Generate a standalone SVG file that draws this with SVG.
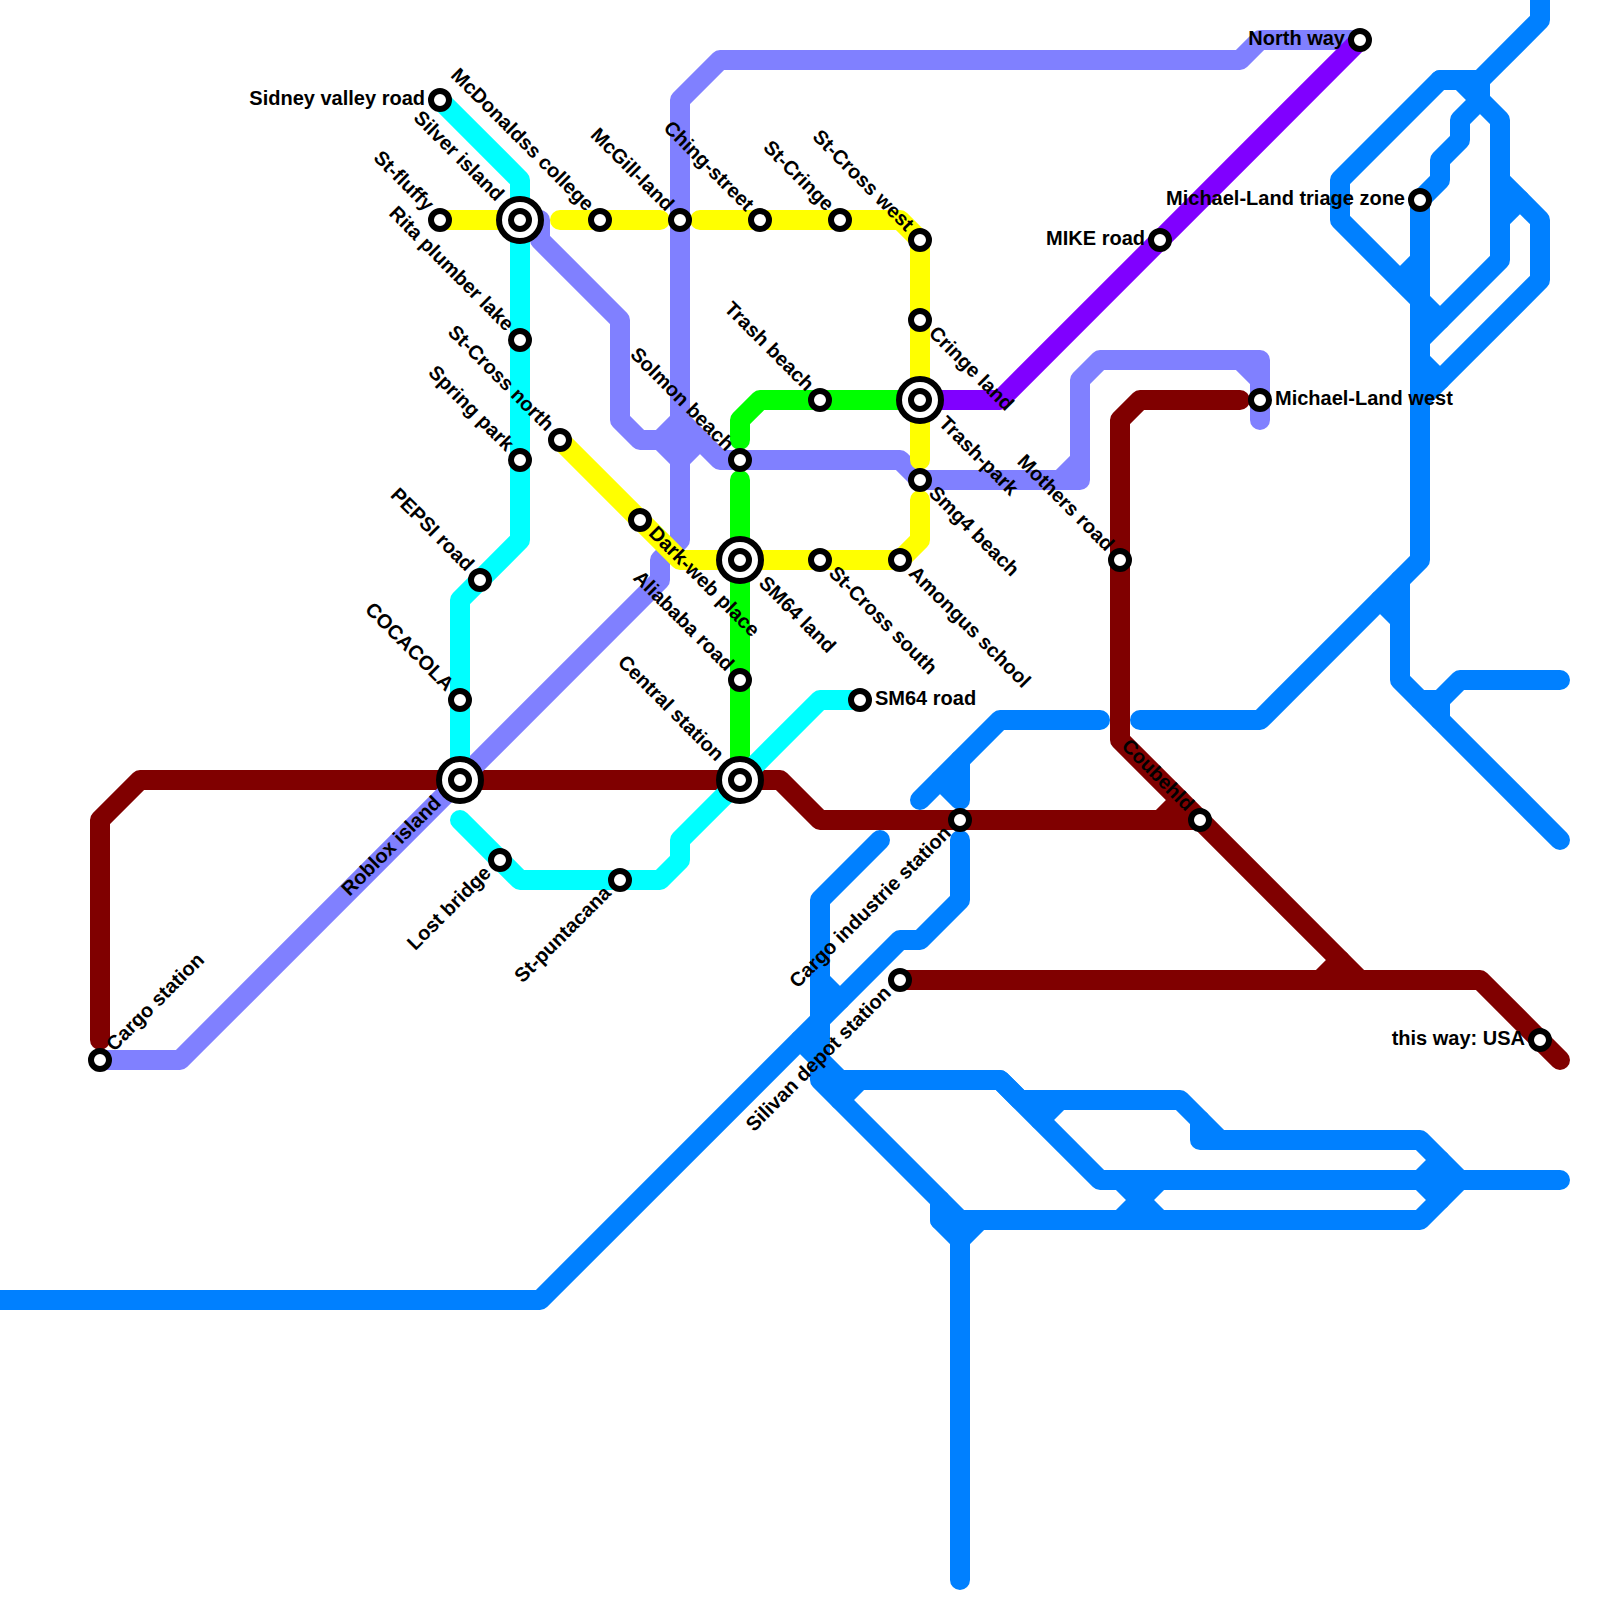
<svg xmlns="http://www.w3.org/2000/svg" width="1600" height="1600" viewBox="0 0 1600 1600">
<style>
.l{fill:none;stroke-width:20;stroke-linecap:round;stroke-linejoin:round}
.blue{stroke:#0080ff}.maroon{stroke:#800000}.peri{stroke:#8080ff}.violet{stroke:#8000ff}.green{stroke:#00ff00}.cyan{stroke:#00ffff}.yellow{stroke:#ffff00}
.st{fill:#fff;stroke:#000;stroke-width:6}
.ic{fill:#fff;stroke:#000;stroke-width:6}
text{font-family:"Liberation Sans",Arial,sans-serif;font-size:20px;font-weight:700;fill:#000;dominant-baseline:central}
.e{text-anchor:end}
</style>
<rect width="1600" height="1600" fill="#fff"/>
<g id="connectors">
<g class="l blue">
<path d="M0 1300H540L900 940H920L960 900V840"/>
<path d="M880 840L820 900V1080L960 1220V1580"/>
<path d="M820 980L840 1000"/>
<path d="M800 1040L840 1080H1000L1100 1180H1560"/>
<path d="M860 1080L840 1100"/>
<path d="M920 800L1000 720H1100"/>
<path d="M940 780L960 800V760"/>
<path d="M1140 720H1260L1420 560V200L1440 180V160L1460 140V120L1480 100"/>
<path d="M1380 600L1400 620"/>
<path d="M1400 580V680L1560 840"/>
<path d="M1420 700H1440L1460 680H1560"/>
<path d="M1440 700V720"/>
<path d="M1540 0V20L1480 80H1440L1340 180V220L1420 300L1440 320"/>
<path d="M1440 80H1460L1500 120V260L1420 340"/>
<path d="M1480 80V100"/>
<path d="M1420 260L1400 280"/>
<path d="M1420 360L1440 380"/>
<path d="M1500 180L1540 220V280L1420 400"/>
<path d="M1500 220L1520 200"/>
<path d="M1000 1080L1020 1100H1180L1220 1140H1420L1460 1180L1420 1220H940V1200"/>
<path d="M1200 1120V1140H1220"/>
<path d="M940 1220L960 1240L980 1220"/>
<path d="M1040 1120L1060 1100"/>
<path d="M1120 1180L1160 1220"/>
<path d="M1120 1220L1160 1180"/>
<path d="M1420 1180L1440 1160"/>
<path d="M1420 1180L1440 1200"/>
</g>
<g class="l maroon">
<path d="M100 1040V820L140 780H780L820 820H1200"/>
<path d="M1160 820L1180 800"/>
<path d="M1240 400H1140L1120 420V740L1360 980"/>
<path d="M900 980H1480L1560 1060"/>
<path d="M1320 980L1340 960"/>
</g>
<g class="l peri">
<path d="M1360 40H1260L1240 60H720L680 100V540L660 560V580L180 1060H100"/>
<path d="M520 220H540V240L620 320V420L640 440H660L680 460L700 440"/>
<path d="M660 440L680 420L720 460H900L920 480H1080V380L1100 360H1260V420"/>
<path d="M1240 360L1260 380"/>
<path d="M1060 480L1080 460"/>
</g>
<g class="l violet"><path d="M920 400H1000L1360 40"/></g>
<g class="l green">
<path d="M920 400H760L740 420V440"/>
<path d="M740 480V780"/>
</g>
<g class="l cyan">
<path d="M440 100L520 180V540L460 600V780"/>
<path d="M460 820L520 880H660L680 860V840L820 700H860"/>
</g>
<g class="l yellow">
<path d="M440 220H520"/>
<path d="M560 220H660"/>
<path d="M700 220H900L920 240V460"/>
<path d="M560 440L680 560H900L920 540V500"/>
</g>
</g>
<g id="n-sidney"><circle class="st" cx="440" cy="100" r="9"/><text class="e" x="425" y="98">Sidney valley road</text></g>
<g id="n-fluffy"><circle class="st" cx="440" cy="220" r="9"/><text class="e" y="-2.5" transform="translate(429 209) rotate(45)">St-fluffy</text></g>
<g id="n-silver"><circle class="ic" cx="520" cy="220" r="21"/><circle class="st" cx="520" cy="220" r="9"/><text class="e" y="-2.5" transform="translate(499 199) rotate(45)">Silver island</text></g>
<g id="n-mcdonaldss"><circle class="st" cx="600" cy="220" r="9"/><text class="e" y="-2.5" transform="translate(589 209) rotate(45)">McDonaldss college</text></g>
<g id="n-mcgill"><circle class="st" cx="680" cy="220" r="9"/><text class="e" y="-2.5" transform="translate(669 209) rotate(45)">McGill-land</text></g>
<g id="n-ching"><circle class="st" cx="760" cy="220" r="9"/><text class="e" y="-2.5" transform="translate(749 209) rotate(45)">Ching-street</text></g>
<g id="n-cringe"><circle class="st" cx="840" cy="220" r="9"/><text class="e" y="-2.5" transform="translate(829 209) rotate(45)">St-Cringe</text></g>
<g id="n-crosswest"><circle class="st" cx="920" cy="240" r="9"/><text class="e" y="-2.5" transform="translate(909 229) rotate(45)">St-Cross west</text></g>
<g id="n-cringeland"><circle class="st" cx="920" cy="320" r="9"/><text y="-2.5" transform="translate(931 331) rotate(45)">Cringe land</text></g>
<g id="n-trashpark"><circle class="ic" cx="920" cy="400" r="21"/><circle class="st" cx="920" cy="400" r="9"/><text y="-2.5" transform="translate(941 421) rotate(45)">Trash-park</text></g>
<g id="n-trashbeach"><circle class="st" cx="820" cy="400" r="9"/><text class="e" y="-2.5" transform="translate(809 389) rotate(45)">Trash beach</text></g>
<g id="n-solmon"><circle class="st" cx="740" cy="460" r="9"/><text class="e" y="-2.5" transform="translate(729 449) rotate(45)">Solmon beach</text></g>
<g id="n-smg4"><circle class="st" cx="920" cy="480" r="9"/><text y="-2.5" transform="translate(931 491) rotate(45)">Smg4 beach</text></g>
<g id="n-rita"><circle class="st" cx="520" cy="340" r="9"/><text class="e" y="-2.5" transform="translate(509 329) rotate(45)">Rita plumber lake</text></g>
<g id="n-spring"><circle class="st" cx="520" cy="460" r="9"/><text class="e" y="-2.5" transform="translate(509 449) rotate(45)">Spring park</text></g>
<g id="n-crossnorth"><circle class="st" cx="560" cy="440" r="9"/><text class="e" y="-2.5" transform="translate(549 429) rotate(45)">St-Cross north</text></g>
<g id="n-darkweb"><circle class="st" cx="640" cy="520" r="9"/><text y="-2.5" transform="translate(651 531) rotate(45)">Dark-web place</text></g>
<g id="n-sm64land"><circle class="ic" cx="740" cy="560" r="21"/><circle class="st" cx="740" cy="560" r="9"/><text y="-2.5" transform="translate(761 581) rotate(45)">SM64 land</text></g>
<g id="n-crosssouth"><circle class="st" cx="820" cy="560" r="9"/><text y="-2.5" transform="translate(831 571) rotate(45)">St-Cross south</text></g>
<g id="n-amongus"><circle class="st" cx="900" cy="560" r="9"/><text y="-2.5" transform="translate(911 571) rotate(45)">Amongus school</text></g>
<g id="n-pepsi"><circle class="st" cx="480" cy="580" r="9"/><text class="e" y="-2.5" transform="translate(469 569) rotate(45)">PEPSI road</text></g>
<g id="n-cocacola"><circle class="st" cx="460" cy="700" r="9"/><text class="e" y="-2.5" transform="translate(449 689) rotate(45)">COCACOLA</text></g>
<g id="n-roblox"><circle class="ic" cx="460" cy="780" r="21"/><circle class="st" cx="460" cy="780" r="9"/><text class="e" y="-2.5" transform="translate(439 801) rotate(-45)">Roblox island</text></g>
<g id="n-central"><circle class="ic" cx="740" cy="780" r="21"/><circle class="st" cx="740" cy="780" r="9"/><text class="e" y="-2.5" transform="translate(719 759) rotate(45)">Central station</text></g>
<g id="n-aliababa"><circle class="st" cx="740" cy="680" r="9"/><text class="e" y="-2.5" transform="translate(729 669) rotate(45)">Aliababa road</text></g>
<g id="n-sm64road"><circle class="st" cx="860" cy="700" r="9"/><text x="875" y="698">SM64 road</text></g>
<g id="n-lost"><circle class="st" cx="500" cy="860" r="9"/><text class="e" y="-2.5" transform="translate(489 871) rotate(-45)">Lost bridge</text></g>
<g id="n-puntacana"><circle class="st" cx="620" cy="880" r="9"/><text class="e" y="-2.5" transform="translate(609 891) rotate(-45)">St-puntacana</text></g>
<g id="n-cargo"><circle class="st" cx="100" cy="1060" r="9"/><text y="-2.5" transform="translate(111 1049) rotate(-45)">Cargo station</text></g>
<g id="n-industrie"><circle class="st" cx="960" cy="820" r="9"/><text class="e" y="-2.5" transform="translate(949 831) rotate(-45)">Cargo industrie station</text></g>
<g id="n-silivan"><circle class="st" cx="900" cy="980" r="9"/><text class="e" y="-2.5" transform="translate(889 991) rotate(-45)">Silivan depot station</text></g>
<g id="n-coubehld"><circle class="st" cx="1200" cy="820" r="9"/><text class="e" y="-2.5" transform="translate(1189 809) rotate(45)">Coubehld</text></g>
<g id="n-mothers"><circle class="st" cx="1120" cy="560" r="9"/><text class="e" y="-2.5" transform="translate(1109 549) rotate(45)">Mothers road</text></g>
<g id="n-mike"><circle class="st" cx="1160" cy="240" r="9"/><text class="e" x="1145" y="238">MIKE road</text></g>
<g id="n-north"><circle class="st" cx="1360" cy="40" r="9"/><text class="e" x="1345" y="38">North way</text></g>
<g id="n-triage"><circle class="st" cx="1420" cy="200" r="9"/><text class="e" x="1405" y="198">Michael-Land triage zone</text></g>
<g id="n-west"><circle class="st" cx="1260" cy="400" r="9"/><text x="1275" y="398">Michael-Land west</text></g>
<g id="n-usa"><circle class="st" cx="1540" cy="1040" r="9"/><text class="e" x="1525" y="1038">this way: USA</text></g>
</svg>
